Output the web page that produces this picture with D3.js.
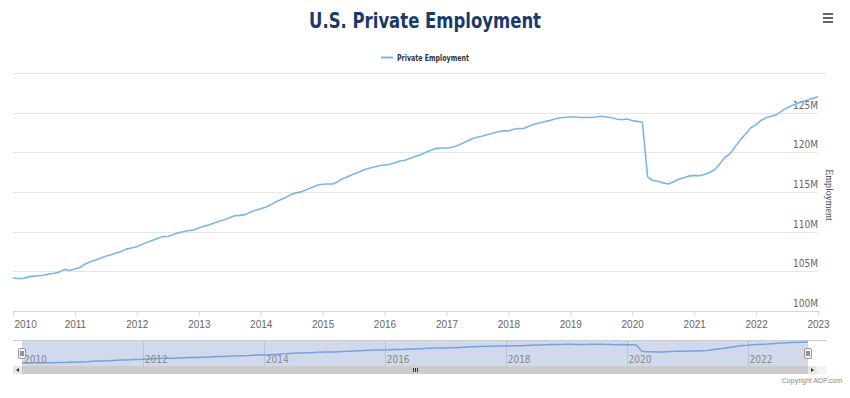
<!DOCTYPE html>
<html>
<head>
<meta charset="utf-8">
<script src="https://cdn.jsdelivr.net/npm/d3@7"></script>
<style>
  body { margin: 0; background: #fff; }
  svg { display: block; font-family: "DejaVu Sans Condensed", "Liberation Sans", sans-serif; }
</style>
</head>
<body>
<div id="chart"></div>
<script>
// monthly private employment, millions, Jan 2010 .. Jan 2023
const startMonth = new Date(2010, 0, 1);
const employment = [
  104.15, 104.1, 104.1, 104.3, 104.4, 104.45, 104.5, 104.65, 104.75, 104.9, 105.25, 105.1,
  105.3, 105.5, 105.9, 106.2, 106.4, 106.65, 106.9, 107.1, 107.3, 107.5, 107.8, 107.95,
  108.1, 108.4, 108.65, 108.9, 109.15, 109.35, 109.4, 109.6, 109.85, 110.0, 110.15, 110.2,
  110.45, 110.7, 110.85, 111.1, 111.3, 111.5, 111.75, 112.0, 112.05, 112.15, 112.45, 112.7,
  112.9, 113.1, 113.4, 113.75, 114.05, 114.35, 114.7, 114.9, 115.05, 115.3, 115.6, 115.85,
  115.97, 116.0, 116.0, 116.3, 116.7, 116.95, 117.25, 117.5, 117.8, 118.0, 118.15, 118.3,
  118.4, 118.5, 118.7, 118.9, 119.0, 119.25, 119.5, 119.7, 120.0, 120.25, 120.5, 120.55,
  120.55, 120.65, 120.8, 121.1, 121.4, 121.7, 121.9, 122.05, 122.25, 122.4, 122.6, 122.7,
  122.7, 122.9, 123.0, 123.0, 123.3, 123.55, 123.7, 123.85, 124.0, 124.2, 124.35, 124.4,
  124.45, 124.45, 124.4, 124.4, 124.4, 124.45, 124.55, 124.45, 124.35, 124.2, 124.1, 124.2,
  124.0, 123.9, 123.8, 116.9, 116.45, 116.35, 116.15, 116.0, 116.3, 116.6, 116.8, 117.0,
  117.1, 117.05, 117.2, 117.45, 117.8, 118.55, 119.35, 119.85, 120.75, 121.6, 122.35, 123.1,
  123.5, 124.05, 124.35, 124.55, 124.75, 125.2, 125.6, 125.9, 126.15, 126.4, 126.6, 126.8,
  127.0
];
const yTicks = [100, 105, 110, 115, 120, 125, 130];
const yearTicks = d3.range(2010, 2024);
const navYearTicks = [2010, 2012, 2014, 2016, 2018, 2020, 2022];

const data = employment.map((v, i) => ({ date: d3.timeMonth.offset(startMonth, i), value: v }));

const width = 850, height = 398;
const plot = { left: 13, right: 818, top: 73, bottom: 311 };
const nav = { left: 22, right: 808, top: 340, bottom: 366 };
const lineColor = "#7cb5ec";

const svg = d3.select("#chart").append("svg")
  .attr("width", width)
  .attr("height", height);

const x = d3.scaleTime()
  .domain(d3.extent(data, d => d.date))
  .range([plot.left, plot.right]);
const y = d3.scaleLinear().domain([100, 130]).range([plot.bottom, plot.top]);

// title + menu icon
svg.append("text")
  .attr("x", 425).attr("y", 28)
  .attr("text-anchor", "middle")
  .attr("fill", "#1b3a6b")
  .attr("font-size", 21)
  .attr("font-weight", "bold")
  .attr("textLength", 232)
  .attr("lengthAdjust", "spacingAndGlyphs")
  .text("U.S. Private Employment");

const menu = svg.append("g").attr("stroke", "#666").attr("stroke-width", 2);
[14, 18, 22].forEach(yy => menu.append("line").attr("x1", 823).attr("x2", 833).attr("y1", yy).attr("y2", yy));

// legend
svg.append("line")
  .attr("x1", 381).attr("x2", 393).attr("y1", 57.5).attr("y2", 57.5)
  .attr("stroke", lineColor).attr("stroke-width", 2);
svg.append("text")
  .attr("x", 397).attr("y", 61)
  .attr("font-size", 9.5).attr("font-weight", "bold").attr("fill", "#333")
  .attr("textLength", 72)
  .attr("lengthAdjust", "spacingAndGlyphs")
  .text("Private Employment");

// grid + y axis (right side)
svg.append("g")
  .selectAll("line")
  .data(yTicks)
  .join("line")
  .attr("x1", plot.left).attr("x2", d => d === 130 ? 826 : plot.right)
  .attr("y1", d => Math.round(y(d)) + 0.5).attr("y2", d => Math.round(y(d)) + 0.5)
  .attr("stroke", "#e6e6e6");

svg.append("g")
  .selectAll("text")
  .data(yTicks.filter(d => d < 130))
  .join("text")
  .attr("x", plot.right).attr("y", d => y(d) - 4)
  .attr("text-anchor", "end")
  .attr("font-size", 10).attr("fill", "#666")
  .text(d => d + "M");

svg.append("text")
  .attr("transform", `translate(826,${(plot.top + plot.bottom) / 2 + 3}) rotate(90)`)
  .attr("text-anchor", "middle")
  .attr("font-family", "Liberation Serif, serif")
  .attr("font-size", 10).attr("fill", "#333")
  .text("Employment");

// x axis
const xAxis = d3.axisBottom(x)
  .tickValues(yearTicks.map(yr => new Date(yr, 0, 1)))
  .tickFormat(d3.timeFormat("%Y"))
  .tickSize(5)
  .tickSizeOuter(0);
const gx = svg.append("g")
  .attr("transform", `translate(0,${plot.bottom})`)
  .call(xAxis);
gx.select(".domain").attr("stroke", "#ccd6eb");
gx.selectAll(".tick line").attr("stroke", "#ccd6eb");
gx.selectAll(".tick text")
  .attr("fill", "#666").attr("font-size", 10).attr("font-family", null).attr("dy", "0.9em");
gx.selectAll(".tick text").filter((d, i) => i === 0).attr("text-anchor", "start").attr("dx", 1);

// main line
svg.append("path")
  .datum(data)
  .attr("fill", "none")
  .attr("stroke", lineColor)
  .attr("stroke-width", 1.6)
  .attr("stroke-linejoin", "round")
  .attr("d", d3.line().x(d => x(d.date)).y(d => y(d.value)));

// navigator
const nx = d3.scaleTime().domain(x.domain()).range([nav.left, nav.right]);
const ny = d3.scaleLinear().domain(d3.extent(employment)).range([nav.bottom - 3, nav.top + 2]);

svg.append("rect")
  .attr("x", nav.left).attr("y", nav.top)
  .attr("width", nav.right - nav.left).attr("height", nav.bottom - nav.top)
  .attr("fill", "rgba(102,133,194,0.3)");

svg.append("g")
  .selectAll("line")
  .data(navYearTicks.slice(1))
  .join("line")
  .attr("x1", d => Math.round(nx(new Date(d, 0, 1))) + 0.5)
  .attr("x2", d => Math.round(nx(new Date(d, 0, 1))) + 0.5)
  .attr("y1", nav.top).attr("y2", nav.bottom)
  .attr("stroke", "#b8c3dc");

svg.append("path")
  .datum(data)
  .attr("fill", "none")
  .attr("stroke", "#7aa0dd")
  .attr("stroke-width", 1.5)
  .attr("d", d3.line().x(d => nx(d.date)).y(d => ny(d.value)));

svg.append("g")
  .selectAll("text")
  .data(navYearTicks)
  .join("text")
  .attr("x", d => nx(new Date(d, 0, 1)) + 2)
  .attr("y", nav.bottom - 3)
  .attr("font-size", 10).attr("fill", "#888")
  .text(d => d);

svg.append("line")
  .attr("x1", 13).attr("x2", 826).attr("y1", nav.top + 0.5).attr("y2", nav.top + 0.5)
  .attr("stroke", "#cccccc");

// handles
[nav.left, nav.right].forEach(hx => {
  svg.append("rect")
    .attr("x", hx - 3.5).attr("y", 348.5).attr("width", 7).attr("height", 10).attr("rx", 1.5)
    .attr("fill", "#f2f2f2").attr("stroke", "#999");
  svg.append("line").attr("x1", hx - 1).attr("x2", hx - 1).attr("y1", 351).attr("y2", 356).attr("stroke", "#333");
  svg.append("line").attr("x1", hx + 1).attr("x2", hx + 1).attr("y1", 351).attr("y2", 356).attr("stroke", "#333");
});

// scrollbar
svg.append("rect")
  .attr("x", 13).attr("y", nav.bottom).attr("width", 826 - 13).attr("height", 8)
  .attr("fill", "#f2f2f2");
svg.append("rect")
  .attr("x", nav.left).attr("y", nav.bottom).attr("width", nav.right - nav.left).attr("height", 8)
  .attr("fill", "#cccccc");
svg.append("rect").attr("x", 13).attr("y", nav.bottom).attr("width", 9).attr("height", 8).attr("fill", "#e6e6e6");
svg.append("rect").attr("x", nav.right).attr("y", nav.bottom).attr("width", 9).attr("height", 8).attr("fill", "#e6e6e6");
svg.append("path").attr("d", `M19,${nav.bottom + 2} L19,${nav.bottom + 6} L16,${nav.bottom + 4}Z`).attr("fill", "#333");
svg.append("path").attr("d", `M${nav.right + 3},${nav.bottom + 2} L${nav.right + 3},${nav.bottom + 6} L${nav.right + 6},${nav.bottom + 4}Z`).attr("fill", "#333");
const gripX = (nav.left + nav.right) / 2;
[-2, 0, 2].forEach(o => svg.append("line")
  .attr("x1", gripX + o + 0.5).attr("x2", gripX + o + 0.5)
  .attr("y1", nav.bottom + 2).attr("y2", nav.bottom + 6)
  .attr("stroke", "#333"));

svg.append("text")
  .attr("x", 842).attr("y", 383)
  .attr("text-anchor", "end")
  .attr("font-family", "Liberation Sans, sans-serif")
  .attr("font-size", 7).attr("fill", "#8a8a8a")
  .text("Copyright ADP.com");
</script>
</body>
</html>
